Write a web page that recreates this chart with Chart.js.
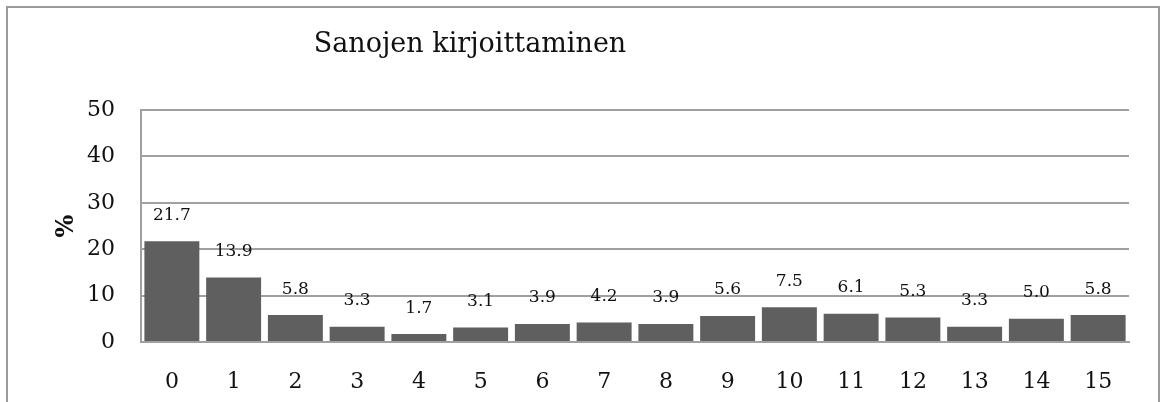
<!DOCTYPE html>
<html>
<head>
<meta charset="utf-8">
<script src="https://cdn.jsdelivr.net/npm/chart.js@4/dist/chart.umd.min.js"></script>
<style>
  html, body { margin: 0; padding: 0; background: #fff; }
  #wrap { position: relative; width: 1166px; height: 402px; overflow: hidden; }
  #frame { position: absolute; left: 6px; top: 6px; width: 1154px; height: 420px; border: 2px solid #9a9a9a; box-sizing: border-box; }
  canvas { position: absolute; left: 0; top: 0; }
</style>
</head>
<body>
<div id="wrap">
  <div id="frame"></div>
  <canvas id="chart" width="1166" height="402"></canvas>
</div>
<script>
/* data */
const categories = ["0","1","2","3","4","5","6","7","8","9","10","11","12","13","14","15"];
const values = [21.7, 13.9, 5.8, 3.3, 1.7, 3.1, 3.9, 4.2, 3.9, 5.6, 7.5, 6.1, 5.3, 3.3, 5.0, 5.8];
const yTicks = [0, 10, 20, 30, 40, 50];
const chartTitle = "Sanojen kirjoittaminen";
const yTitle = "%";

const FONT = "'DejaVu Serif', 'Liberation Serif', serif";

// title + value labels
const extras = {
    id: "extras",
    afterDatasetsDraw(chart) {
        const ctx = chart.ctx;
        ctx.save();
        ctx.fillStyle = "#111";
        ctx.textAlign = "center";
        ctx.textBaseline = "middle";
        ctx.font = "17px " + FONT;
        chart.getDatasetMeta(0).data.forEach((bar, i) => {
            ctx.fillText(values[i].toFixed(1), bar.x, bar.y - 26);
        });
        ctx.font = "27px " + FONT;
        ctx.fillText(chartTitle, 470, 45);
        ctx.restore();
    }
};

new Chart(document.getElementById("chart"), {
    type: "bar",
    data: {
        labels: categories,
        datasets: [{
            data: values,
            backgroundColor: "#5f5f5f",
            barPercentage: 0.89,
            categoryPercentage: 1.0
        }]
    },
    options: {
        responsive: false,
        animation: false,
        layout: { padding: { top: 110, right: 37, left: 0, bottom: 0 } },
        plugins: { legend: { display: false }, tooltip: { enabled: false }, title: { display: false } },
        scales: {
            x: {
                grid: { display: false, drawTicks: false },
                border: { color: "#a0a0a0", width: 2 },
                ticks: { color: "#111", font: { family: FONT, size: 22 }, padding: 27 },
                afterFit: s => { s.height = 60; }
            },
            y: {
                min: 0, max: 50,
                afterBuildTicks: s => { s.ticks = yTicks.map(v => ({ value: v })); },
                grid: { color: "#a0a0a0", lineWidth: 2, drawTicks: false },
                border: { color: "#a0a0a0", width: 2 },
                ticks: { color: "#111", font: { family: FONT, size: 22 }, padding: 26 },
                title: { display: true, text: yTitle, color: "#111", font: { family: FONT, size: 24, weight: "bold" }, padding: { top: 52, bottom: 0 } },
                afterFit: s => { s.width = 141; }
            }
        }
    },
    plugins: [extras]
});
</script>
</body>
</html>
